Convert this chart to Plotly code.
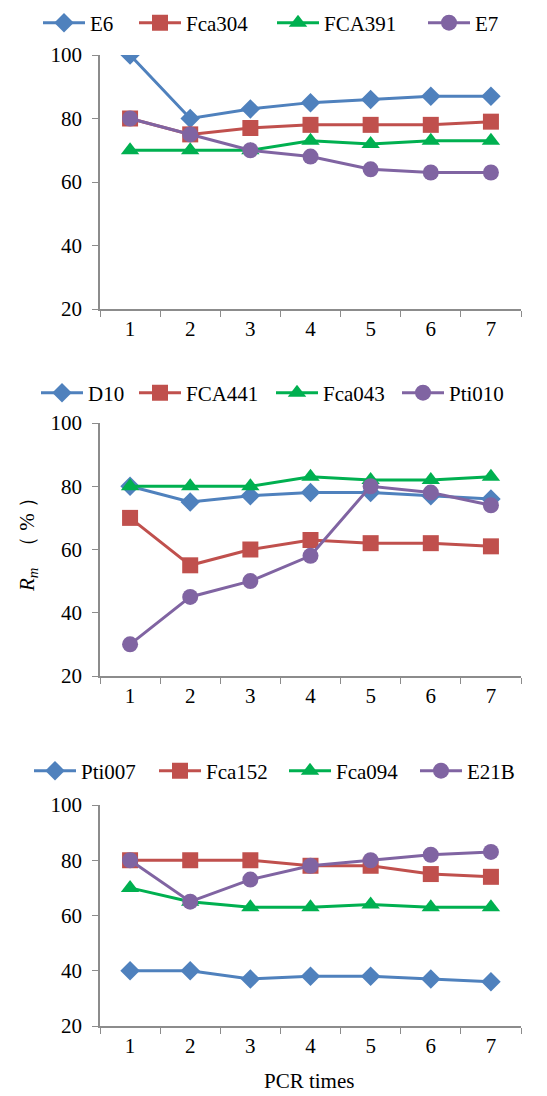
import plotly.graph_objects as go

categories = ["1", "2", "3", "4", "5", "6", "7"]

# Panel 1
p1_names = ["E6", "Fca304", "FCA391", "E7"]
p1_E6 = [100, 80, 83, 85, 86, 87, 87]
p1_Fca304 = [80, 75, 77, 78, 78, 78, 79]
p1_FCA391 = [70, 70, 70, 73, 72, 73, 73]
p1_E7 = [80, 75, 70, 68, 64, 63, 63]

# Panel 2
p2_names = ["D10", "FCA441", "Fca043", "Pti010"]
p2_D10 = [80, 75, 77, 78, 78, 77, 76]
p2_FCA441 = [70, 55, 60, 63, 62, 62, 61]
p2_Fca043 = [80, 80, 80, 83, 82, 82, 83]
p2_Pti010 = [30, 45, 50, 58, 80, 78, 74]

# Panel 3
p3_names = ["Pti007", "Fca152", "Fca094", "E21B"]
p3_Pti007 = [40, 40, 37, 38, 38, 37, 36]
p3_Fca152 = [80, 80, 80, 78, 78, 75, 74]
p3_Fca094 = [70, 65, 63, 63, 64, 63, 63]
p3_E21B = [80, 65, 73, 78, 80, 82, 83]

y_ticks = [20, 40, 60, 80, 100]

colors = ["#4F81BD", "#C0504D", "#00B050", "#8064A2"]
symbols = ["diamond", "square", "triangle-up", "circle"]
msizes = [15, 16, 16, 16]

OFF = 8
W, H = 547 - OFF, 1096 - OFF
FONT = "Liberation Serif"
AX = "#8C8C8C"


def px_x(x):
    return (x - OFF) / W


def px_y(y):
    return (H - (y - OFF)) / H


# (names, series, (plot top, plot bottom), legend row y, legend line starts)
panels = [
    (p1_names, [p1_E6, p1_Fca304, p1_FCA391, p1_E7], (55, 309), 23, [45, 141, 279, 430]),
    (p2_names, [p2_D10, p2_FCA441, p2_Fca043, p2_Pti010], (423, 676), 393, [43, 141, 278, 404]),
    (p3_names, [p3_Pti007, p3_Fca152, p3_Fca094, p3_E21B], (805, 1026), 771, [36, 161, 291, 422]),
]

fig = go.Figure()
layout = dict(
    width=W, height=H,
    margin=dict(l=0, r=0, t=0, b=0, autoexpand=False),
    paper_bgcolor="white", plot_bgcolor="white",
    font=dict(family=FONT, size=21, color="black"),
    showlegend=True,
)

k = 0
for i, (names, series, (top, bot), legy, legx) in enumerate(panels):
    ax = "" if i == 0 else str(i + 1)
    for j, (nm, vals) in enumerate(zip(names, series)):
        k += 1
        leg = "legend" if k == 1 else "legend%d" % k
        fig.add_trace(go.Scatter(
            x=categories, y=vals, name=nm, mode="lines+markers",
            line=dict(color=colors[j], width=3),
            marker=dict(symbol=symbols[j], size=msizes[j], color=colors[j]),
            xaxis="x" + ax, yaxis="y" + ax, legend=leg,
        ))
        layout[leg] = dict(
            orientation="h", x=px_x(legx[j] - 7), xanchor="left",
            y=px_y(legy), yanchor="middle",
            font=dict(family=FONT, size=21), bgcolor="rgba(0,0,0,0)",
            itemclick=False, itemwidth=42,
        )
    layout["xaxis" + ax] = dict(
        domain=[px_x(100), px_x(521)], anchor="y" + ax, type="category",
        categoryorder="array", categoryarray=categories,
        range=[-0.5, 6.5], tickson="boundaries", ticks="outside", ticklen=6,
        tickcolor=AX, showline=True, linecolor=AX, linewidth=1.5,
        showgrid=False, zeroline=False, tickfont=dict(family=FONT, size=21),
        ticklabelstandoff=0, automargin=False,
    )
    layout["yaxis" + ax] = dict(
        domain=[px_y(bot), px_y(top)], anchor="x" + ax,
        range=[20, 100], tickvals=y_ticks, ticks="outside", ticklen=6,
        tickcolor=AX, showline=True, linecolor=AX, linewidth=1.5,
        showgrid=False, zeroline=False, tickfont=dict(family=FONT, size=21),
        ticklabelstandoff=6, automargin=False,
    )

layout["annotations"] = [
    dict(text="<i>R<sub>m</sub></i>\u00a0\u00a0（\u00a0%\u00a0）", x=px_x(28), y=px_y(540),
         xref="paper", yref="paper", textangle=-90, showarrow=False,
         font=dict(family=FONT, size=21), xanchor="center", yanchor="middle"),
    dict(text="PCR times", x=px_x(309), y=px_y(1081),
         xref="paper", yref="paper", showarrow=False,
         font=dict(family=FONT, size=21), xanchor="center", yanchor="middle"),
]

fig.update_layout(**layout)
fig.write_html("out.html")
